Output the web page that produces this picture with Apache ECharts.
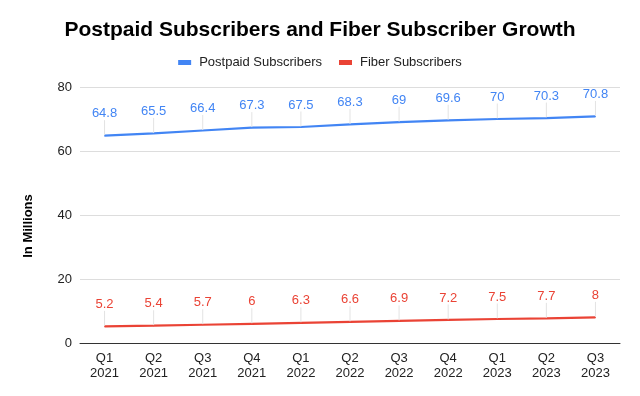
<!DOCTYPE html>
<html><head><meta charset="utf-8">
<script src="https://cdn.jsdelivr.net/npm/echarts@6/dist/echarts.min.js"></script>
<style>html,body{margin:0;padding:0;background:#fff}#c{width:640px;height:396px}</style>
</head><body><div id="c"></div>
<script>
const categories = ['Q1\n2021','Q2\n2021','Q3\n2021','Q4\n2021','Q1\n2022','Q2\n2022','Q3\n2022','Q4\n2022','Q1\n2023','Q2\n2023','Q3\n2023'];
const postpaid = [64.8, 65.5, 66.4, 67.3, 67.5, 68.3, 69, 69.6, 70, 70.3, 70.8];
const fiber = [5.2, 5.4, 5.7, 6, 6.3, 6.6, 6.9, 7.2, 7.5, 7.7, 8];
const yTicks = [0, 20, 40, 60, 80];
const F = 'Liberation Sans, Arial, sans-serif';
const chart = echarts.init(document.getElementById('c'));
function mk(name, data, color){
  return {
    name, type:'line', data, color, symbol:'circle', symbolSize:1, showSymbol:true,
    itemStyle:{color},
    lineStyle:{width:2.2, color},
    label:{show:true, position:'top', distance:2, color, fontFamily:F, fontSize:13},
    labelLayout:{dy:-13},
    labelLine:{show:true, lineStyle:{color:'#e3e3e3', width:1}},
    emphasis:{disabled:true}
  };
}
chart.setOption({
  animation:false,
  title:{text:'Postpaid Subscribers and Fiber Subscriber Growth', left:'center', top:15,
    textStyle:{fontFamily:F, fontSize:21, fontWeight:'bold', color:'#000'}},
  legend:{top:51, left:'center', itemWidth:13, itemHeight:5, itemGap:17, icon:'rect',
    textStyle:{fontFamily:F, fontSize:13, color:'#222', padding:[0,0,0,3]}},
  grid:{left:80, right:20, top:87, bottom:53},
  xAxis:{type:'category', data:categories, boundaryGap:true,
    axisLine:{lineStyle:{color:'#333'}}, axisTick:{show:false},
    axisLabel:{fontFamily:F, fontSize:13, color:'#222', lineHeight:15, margin:8}},
  yAxis:{type:'value', min:0, max:80, interval:20,
    name:'In Millions', nameLocation:'middle', nameGap:45, nameRotate:90,
    nameTextStyle:{fontFamily:F, fontSize:13, fontWeight:'bold', color:'#000', padding:[0,22,0,0]},
    axisLine:{show:false}, axisTick:{show:false},
    axisLabel:{fontFamily:F, fontSize:13, color:'#222', margin:8,
      formatter:v=>yTicks.includes(v)?String(v):''},
    splitLine:{lineStyle:{color:'#ddd', width:1}}},
  series:[mk('Postpaid Subscribers', postpaid, '#4285F4'), mk('Fiber Subscribers', fiber, '#EA4335')]
});
</script></body></html>
